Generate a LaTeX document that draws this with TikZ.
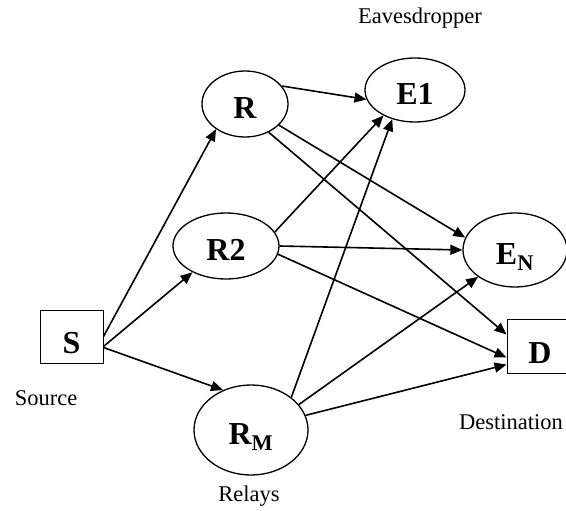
\documentclass[tikz,border=0pt]{standalone}
\usepackage{fontspec}
\setmainfont{Liberation Serif}
\usetikzlibrary{arrows.meta, shapes.geometric}

\begin{document}
\begin{tikzpicture}[x=1pt, y=-1pt]

  % Define styles
  \tikzstyle{relay} = [ellipse, draw, line width=1.3pt, inner sep=0pt, text height=29pt, text depth=0pt, font=\fontsize{32}{36}\selectfont\bfseries]
  \tikzstyle{terminal} = [rectangle, draw, line width=1pt, inner sep=0pt, text height=34pt, text depth=0pt, font=\fontsize{32}{36}\selectfont\bfseries]
  \tikzstyle{caption} = [inner sep=0pt, font=\fontsize{22.5}{26}\selectfont]
  \tikzstyle{link} = [draw, line width=1.6pt, -{Triangle[length=12pt, width=10pt]}]

  \clip (0,0) rectangle (566,511);

  % Labels
  \node[caption] (eve_lbl) at (420, 18) {Eavesdropper};
  \node[caption] (src_lbl) at (46, 398) {Source};
  \node[caption] (rel_lbl) at (249, 496) {Relays};
  \node[caption, anchor=west] (dst_lbl) at (459, 422) {Destination};

  % Source and destination
  \node[terminal, minimum width=63pt, minimum height=53pt] (S) at (71.5, 336.5) {S};
  \node[terminal, minimum width=66pt, minimum height=54pt] (D) at (540, 346) {D};

  % Relays
  \node[relay, minimum width=86pt, minimum height=66pt] (R) at (245, 104) {R};
  \node[relay, minimum width=106pt, minimum height=66pt] (R2) at (226, 246) {R2};
  \node[relay, minimum width=114pt, minimum height=90pt] (RM) at (251, 430) {R\textsubscript{M}};

  % Eavesdroppers
  \node[relay, minimum width=100pt, minimum height=64pt] (E1) at (415, 90) {E1};
  \node[relay, minimum width=104pt, minimum height=74pt] (EN) at (515, 250) {E\textsubscript{N}};

  % Source to relays
  \draw[link] (S.east) -- (R.221);
  \draw[link] ([yshift=-10pt]S.east) -- (R2.218);
  \draw[link] ([yshift=-11pt]S.east) -- (RM.125);

  % Relays to eavesdroppers and destination
  \draw[link] (R.26) -- (E1.191);
  \draw[link] (R.-32) -- (EN.166);
  \draw[link] (R.-50) -- (D.161);

  \draw[link] (R2.16) -- (E1.219);
  \draw[link] (R2.0) -- (EN.180);
  \draw[link] (R2.-9) -- (D.199);

  \draw[link] (RM.39) -- (E1.232);
  \draw[link] (RM.28) -- (EN.216);
  \draw[link] (RM.15) -- (D.209);

\end{tikzpicture}
\end{document}
